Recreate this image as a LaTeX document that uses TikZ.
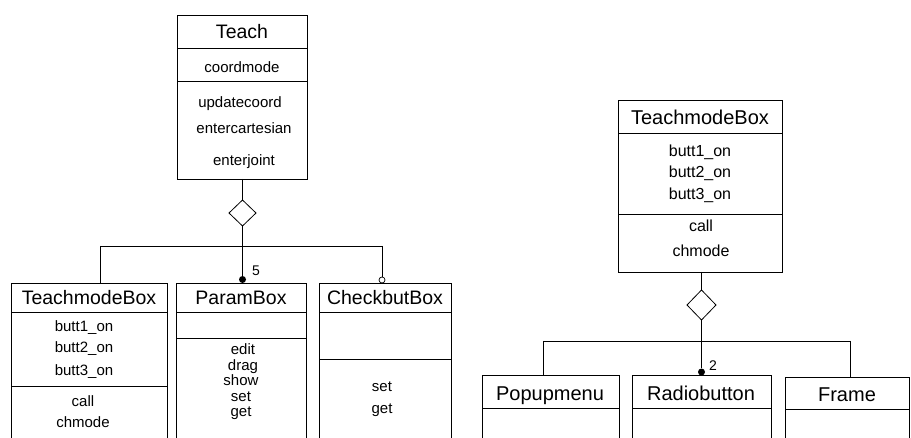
\documentclass[tikz,border=0pt]{standalone}
\usepackage{fontspec}
\setmainfont{Liberation Sans}
\usetikzlibrary{shapes.geometric}
\begin{document}
\begin{tikzpicture}[x=1pt,y=-1pt,
  cls/.style={draw, rectangle, anchor=north west, inner sep=0pt, outer sep=0pt, line width=0.8pt},
  sepline/.style={line width=0.8pt},
  ttl/.style={font=\fontsize{19.5}{20}\selectfont, inner sep=0pt, text height=14pt, text depth=0pt},
  ttlb/.style={font=\fontsize{20}{21}\selectfont, inner sep=0pt, text height=14.4pt, text depth=0pt},
  att/.style={font=\fontsize{15}{16}\selectfont, inner sep=0pt, text height=11pt, text depth=0pt},
  attb/.style={font=\fontsize{16}{17}\selectfont, inner sep=0pt, text height=11.7pt, text depth=0pt},
  agg/.style={draw, diamond, inner sep=0pt, outer sep=0pt, line width=0.8pt},
  link/.style={line width=0.8pt},
  many/.style={circle, fill, inner sep=0pt, outer sep=0pt, minimum size=7pt},
  opt/.style={circle, draw, fill=white, inner sep=0pt, outer sep=0pt, minimum size=6pt, line width=0.7pt},
  num/.style={font=\fontsize{14}{15}\selectfont, inner sep=0pt, text height=10pt, text depth=0pt}]
\useasboundingbox (0,0) rectangle (911,438);
\clip (0,0) rectangle (911,438);

% ---------- Teach and its parts ----------
\node[cls, minimum width=130pt, minimum height=164pt] (teach) at (177,15) {};
\draw[sepline] (177,48) -- (307,48);
\draw[sepline] (177,81) -- (307,81);
\node[ttl] (teachT) at (242,32) {Teach};
\node[att] (tA1) at (242,67) {coordmode};
\node[att] (tO1) at (240,102) {updatecoord};
\node[att] (tO2) at (244,128) {entercartesian};
\node[att] (tO3) at (244,160) {enterjoint};

\node[agg, minimum width=27pt, minimum height=26pt] (dia1) at (242.5,213) {};
\draw[link] (teach.south -| dia1.north) -- (dia1.north);

\node[cls, minimum width=156pt, minimum height=170pt] (tmb) at (11,283) {};
\node[cls, minimum width=130pt, minimum height=170pt] (pb) at (176,283) {};
\node[cls, minimum width=132pt, minimum height=170pt] (cb) at (319,283) {};

\coordinate (j1) at (242.5,246);
\coordinate (l1) at (100,246);
\coordinate (r1) at (382,246);
\coordinate (tmbIn) at (100,283);
\node[many] (m5) at (242.5,279.5) {};
\node[opt] (o1) at (382,280) {};
\node[num] (n5) at (256,271) {5};

\draw[link] (dia1.south) -- (j1);
\draw[link] (l1) -- (r1);
\draw[link] (l1) -- (tmbIn);
\draw[link] (j1) -- (m5);
\draw[link] (m5) -- (pb.north -| m5);
\draw[link] (r1) -- (o1);

% TeachmodeBox
\draw[sepline] (11,312) -- (167,312);
\draw[sepline] (11,386) -- (167,386);
\node[ttl] (tmbT) at (89,298) {TeachmodeBox};
\node[att] (tmbA1) at (84,326) {butt1\_on};
\node[att] (tmbA2) at (84,347) {butt2\_on};
\node[att] (tmbA3) at (84,370) {butt3\_on};
\node[att] (tmbO1) at (83,401) {call};
\node[att] (tmbO2) at (83,422) {chmode};

% ParamBox
\draw[sepline] (176,312) -- (306,312);
\draw[sepline] (176,338) -- (306,338);
\node[ttl] (pbT) at (241,298) {ParamBox};
\node[att] (pbO1) at (243,349) {edit};
\node[att] (pbO2) at (243,365) {drag};
\node[att] (pbO3) at (241,380) {show};
\node[att] (pbO4) at (241,396) {set};
\node[att] (pbO5) at (241,411) {get};

% CheckbutBox
\draw[sepline] (319,312) -- (451,312);
\draw[sepline] (319,359) -- (451,359);
\node[ttl] (cbT) at (385,298) {CheckbutBox};
\node[att] (cbO1) at (382,386) {set};
\node[att] (cbO2) at (382,408) {get};

% ---------- TeachmodeBox and its parts ----------
\node[cls, minimum width=164pt, minimum height=172pt] (tmr) at (618,100) {};
\draw[sepline] (618,133) -- (782,133);
\draw[sepline] (618,214) -- (782,214);
\node[ttlb] (tmrT) at (700,117) {TeachmodeBox};
\node[attb] (tmrA1) at (700,151) {butt1\_on};
\node[attb] (tmrA2) at (700,172) {butt2\_on};
\node[attb] (tmrA3) at (700,194) {butt3\_on};
\node[attb] (tmrO1) at (701,226) {call};
\node[attb] (tmrO2) at (701,251) {chmode};

\node[agg, minimum width=29pt, minimum height=30pt] (dia2) at (701.5,305) {};
\draw[link] (tmr.south -| dia2.north) -- (dia2.north);

\node[cls, minimum width=137pt, minimum height=80pt] (pm) at (482,375) {};
\node[cls, minimum width=139pt, minimum height=80pt] (rb) at (632,375) {};
\node[cls, minimum width=124pt, minimum height=80pt] (fr) at (785,377) {};
\draw[sepline] (482,408) -- (619,408);
\draw[sepline] (632,408) -- (771,408);
\draw[sepline] (785,409) -- (909,409);
\node[ttlb] (pmT) at (550,393) {Popupmenu};
\node[ttlb] (rbT) at (701,393) {Radiobutton};
\node[ttlb] (frT) at (847,394) {Frame};

\coordinate (j2) at (701.5,341);
\coordinate (l2) at (543,341);
\coordinate (r2) at (850,341);
\coordinate (pmIn) at (543,375);
\coordinate (frIn) at (850,377);
\node[many] (m2) at (701.5,372) {};
\node[num] (n2) at (713,366) {2};

\draw[link] (dia2.south) -- (j2);
\draw[link] (l2) -- (r2);
\draw[link] (l2) -- (pmIn);
\draw[link] (r2) -- (frIn);
\draw[link] (j2) -- (m2);
\end{tikzpicture}
\end{document}
